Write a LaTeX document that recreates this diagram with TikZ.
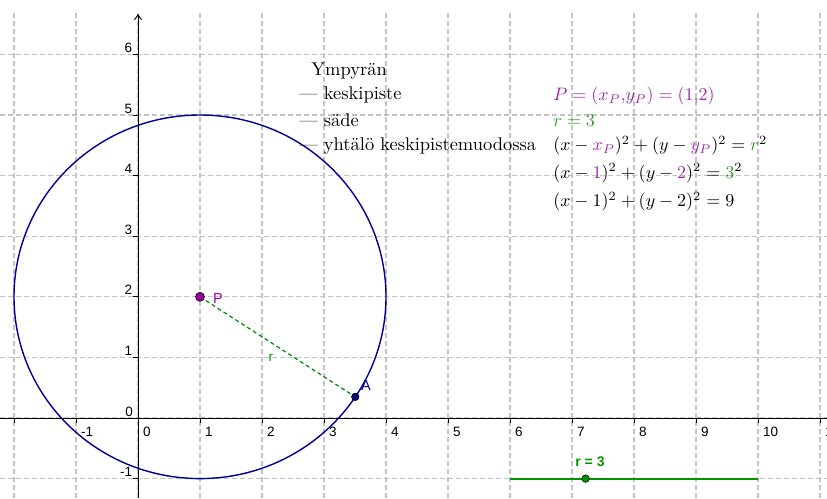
\documentclass[tikz,border=0pt]{standalone}
\usepackage{fontspec}
\newfontfamily\axfont{Liberation Sans}
\usetikzlibrary{arrows.meta,calc}
\definecolor{gridgray}{RGB}{195,195,195}
\definecolor{circblue}{RGB}{0,0,153}
\definecolor{ppurple}{RGB}{153,0,153}
\definecolor{txtpurple}{RGB}{160,40,170}
\definecolor{txtgreen}{RGB}{50,150,40}
\definecolor{sgreen}{RGB}{0,150,0}
\definecolor{anavy}{RGB}{0,0,110}
\tikzset{
  gridline/.style={gridgray, line width=1.2pt, dash pattern=on 5pt off 3pt},
  axisline/.style={black, line width=0.9pt},
  axlabel/.style={font=\axfont\fontsize{13.5}{15}\selectfont, inner sep=0pt},
  maintext/.style={font=\normalsize, scale=1.845, inner sep=0pt, anchor=base west},
  mathtext/.style={font=\normalsize, scale=1.80, inner sep=0pt, anchor=base west},
  ptstyle/.style={circle, draw=black, line width=0.6pt, inner sep=0pt},
}
\begin{document}
\begin{tikzpicture}[x=62pt, y=60.6pt]
\useasboundingbox (-2.2258,-1.3201) rectangle (11.1129,6.8977);
% grid
\foreach \i in {-2,...,11} \draw[gridline] (\i,6.68) -- (\i,-1.3201);
\foreach \j in {-1,...,6} \draw[gridline] (-2.2258,\j) -- (11.1129,\j);
% axes
\draw[axisline] (-2.2258,0) -- (11.1129,0);
\draw[axisline, -{Straight Barb[length=5pt,width=7pt]}] (0,-1.3201) -- (0,6.667);
\foreach \i in {-2,...,11} \draw[axisline] (\i,0) -- (\i,-0.08);
\foreach \j in {-1,...,6} \draw[axisline] (0,\j) -- (-0.08,\j);
% axis labels
\foreach \i in {-1,...,11} \node[axlabel, anchor=base west] (xl\i) at (\i+0.08,-0.297) {\i};
\foreach \j in {-1,1,2,3,4,5,6} \node[axlabel, anchor=base east] (yl\j) at (-0.09,\j+0.03) {\j};
\node[axlabel, anchor=base east] (yl0) at (-0.08,0.03) {0};
% circle
\draw[circblue, line width=1.4pt] (1,2) circle [x radius=3, y radius=3];
% points
\coordinate (Pc) at (1,2);
\coordinate (Ac) at ($(1,2)+(-33.4:3)$);
\draw[sgreen!90!black, line width=1.2pt, dash pattern=on 4pt off 3pt] (Pc) -- (Ac);
\node[ptstyle, fill=ppurple, minimum size=9pt] (P) at (Pc) {};
\node[ptstyle, fill=anavy, minimum size=7.5pt] (A) at (Ac) {};
\node[axlabel, text=ppurple, font=\axfont\fontsize{14.5}{16}\selectfont] (Plabel) at (1.29,1.98) {P};
\node[axlabel, text=circblue, font=\axfont\fontsize{14.5}{16}\selectfont] (Alabel) at (3.677,0.528) {A};
\node[axlabel, text=sgreen] (rlabel) at (2.145,0.99) {r};
% slider
\coordinate (s1) at (6,-1);
\coordinate (s2) at (10,-1);
\draw[sgreen, line width=2.2pt] (s1) -- (s2);
\node[ptstyle, fill=sgreen, minimum size=7.5pt] (S) at (7.22,-1) {};
\node[axlabel, text=sgreen, font=\axfont\bfseries\fontsize{14}{16}\selectfont] (slabel) at (7.29,-0.726) {r = 3};
% text
\node[maintext] (t1) at (2.790,5.660) {Ympyrän};
\node[maintext] (t2) at (2.597,5.248) {--- keskipiste};
\node[maintext] (t3) at (2.597,4.818) {--- säde};
\node[maintext] (t4) at (2.597,4.406) {--- yhtälö keskipistemuodossa};
\node[mathtext] (e1) at (6.694,5.231) {$\color{txtpurple}P=(x_P{,}y_P)=(1{,}2)$};
\node[mathtext] (e2) at (6.694,4.818) {$\color{txtgreen}r=3$};
\node[mathtext] (e3) at (6.694,4.406) {$(x-{\color{txtpurple}x_P})^2+(y-{\color{txtpurple}y_P})^2={\color{txtgreen}r}^2$};
\node[mathtext] (e4) at (6.694,3.960) {$(x-{\color{txtpurple}1})^2+(y-{\color{txtpurple}2})^2={\color{txtgreen}3}^2$};
\node[mathtext] (e5) at (6.694,3.482) {$(x-1)^2+(y-2)^2=9$};
\end{tikzpicture}
\end{document}
